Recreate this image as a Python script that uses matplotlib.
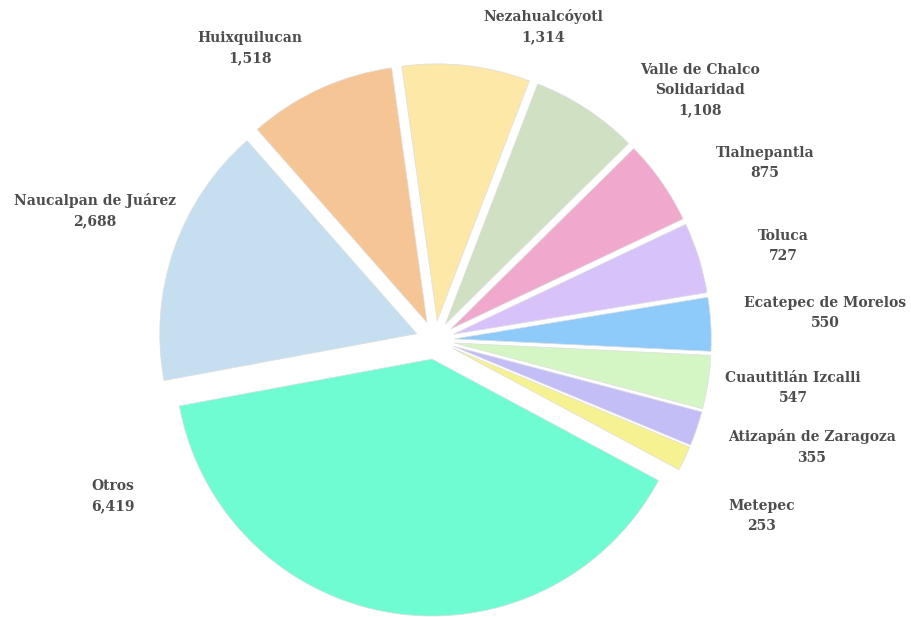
import matplotlib.pyplot as plt

municipios = ['Naucalpan de Juárez', 'Huixquilucan', 'Nezahualcóyotl',
              'Valle de Chalco\nSolidaridad', 'Tlalnepantla', 'Toluca',
              'Ecatepec de Morelos', 'Cuautitlán Izcalli',
              'Atizapán de Zaragoza', 'Metepec', 'Otros']
valores = [2688, 1518, 1314, 1108, 875, 727, 550, 547, 355, 253, 6419]
colores = ['#c6dff0', '#f5c595', '#fde8a8', '#cfe0c3', '#f0a9cc', '#d8c2fa',
           '#8ecbfa', '#d4f5c4', '#c4bef7', '#f6f191', '#70fcd2']

# label centres in pixels (x from left, y from top)
pos_etiquetas = [(95, 211), (250, 48), (543, 27), (700, 90), (765, 163),
                 (783, 246), (825, 313), (793, 388), (812, 447), (762, 516),
                 (113, 496)]

W, H = 911, 617
cx, cy, r = 435, 340, 257

fig = plt.figure(figsize=(W / 100, H / 100), dpi=100)
ax = fig.add_axes([0, 0, 1, 1])
ax.pie(valores, colors=colores, startangle=190.5, counterclock=False,
       explode=[0.075] * len(valores), radius=1,
       wedgeprops={'linewidth': 0.5, 'edgecolor': '#dddddd'})
ax.set_xlim(-cx / r, (W - cx) / r)
ax.set_ylim(-(H - cy) / r, cy / r)
ax.set_aspect('auto')
ax.axis('off')

for nombre, v, (px, py) in zip(municipios, valores, pos_etiquetas):
    fig.text(px / W, 1 - py / H, f'{nombre}\n{v:,}', ha='center', va='center',
             fontsize=10, fontweight='bold', family='DejaVu Serif',
             color='#4d4d4d', linespacing=1.55)

fig.savefig('out.png', dpi=100, facecolor='white')
